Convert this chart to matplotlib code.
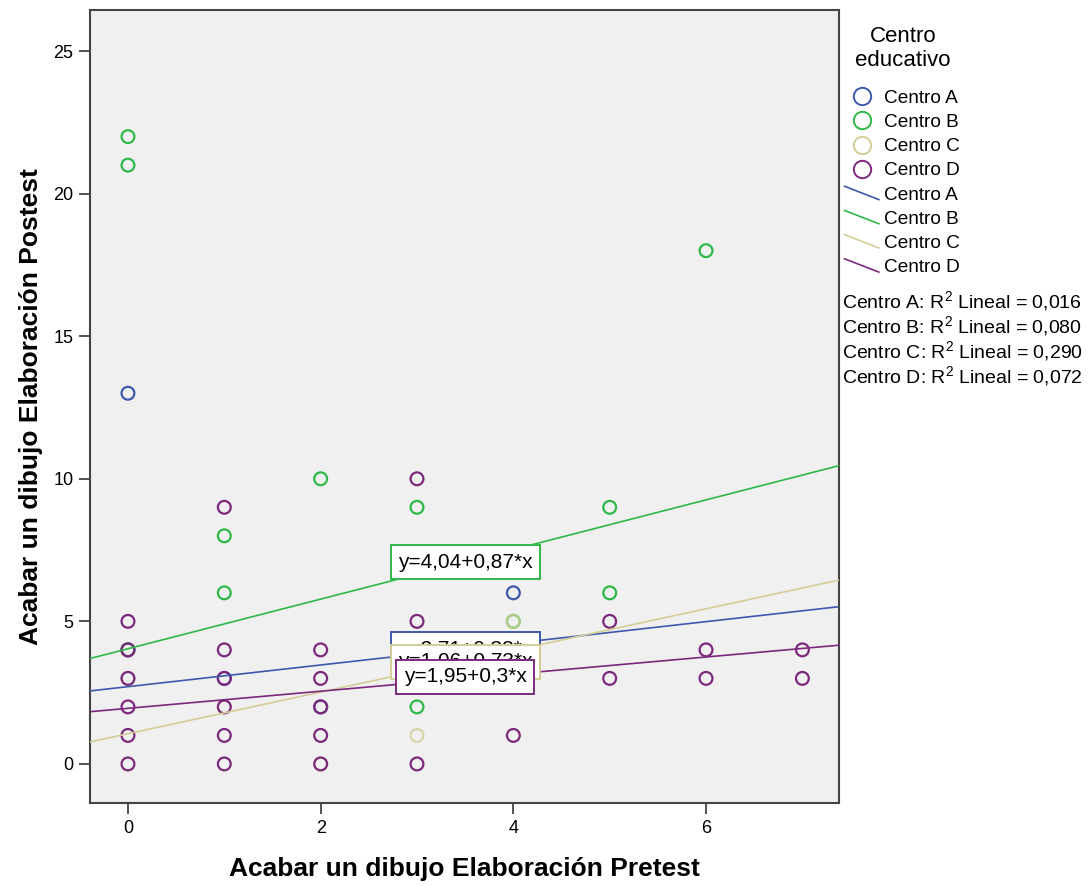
import numpy as np
import matplotlib
matplotlib.use("Agg")
import matplotlib.pyplot as plt
from matplotlib.lines import Line2D
from matplotlib.legend_handler import HandlerBase

plt.rcParams["font.family"] = ["Liberation Sans", "DejaVu Sans"]
plt.rcParams["mathtext.fontset"] = "custom"
plt.rcParams["mathtext.rm"] = "Liberation Sans"

# datos
centros = ["Centro A", "Centro B", "Centro C", "Centro D"]
colores = ["#3e58ac", "#2eb848", "#d3ce97", "#7c287d"]

pre_a = [0, 0, 1, 4, 2]
post_a = [13, 4, 3, 6, 2]
pre_b = [0, 0, 0, 1, 1, 2, 3, 3, 5, 5, 6, 4]
post_b = [22, 21, 4, 8, 6, 10, 9, 2, 9, 6, 18, 5]
pre_c = [3, 4, 0, 1, 2]
post_c = [1, 5, 3, 2, 0]
pre_d = [0, 0, 0, 0, 0, 0, 1, 1, 1, 1, 1, 1, 2, 2, 2, 2, 2, 3, 3, 3, 4, 5, 5, 6, 6, 7, 7]
post_d = [5, 4, 3, 2, 1, 0, 9, 4, 3, 2, 1, 0, 4, 3, 2, 1, 0, 10, 5, 0, 1, 5, 3, 4, 3, 4, 3]

intercepto = [2.71, 4.04, 1.06, 1.95]
pendiente = [0.38, 0.87, 0.73, 0.30]
ecuaciones = ["y=2,71+0,38*x", "y=4,04+0,87*x", "y=1,06+0,73*x", "y=1,95+0,3*x"]
pos_etiqueta_y = [4.03, 7.08, 3.58, 3.05]
r2 = ["0,016", "0,080", "0,290", "0,072"]

xs = [pre_a, pre_b, pre_c, pre_d]
ys = [post_a, post_b, post_c, post_d]

fig = plt.figure(figsize=(10.88, 8.86), dpi=100)
ax = fig.add_axes([90 / 1088, 1 - 803 / 886, 749 / 1088, 793 / 886])
ax.set_facecolor("#f0f0f0")
ax.set_xlim(-0.394, 7.38)
ax.set_ylim(-1.37, 26.44)

# puntos
for i in range(4):
    ax.scatter(xs[i], ys[i], s=85, facecolors="none", edgecolors=colores[i],
               linewidths=1.6, zorder=3, alpha=0.8 if i == 2 else 1.0)

# rectas de regresion
xl = np.linspace(-0.394, 7.38, 50)
for i in range(4):
    ax.plot(xl, intercepto[i] + pendiente[i] * xl, color=colores[i], lw=1.2, zorder=4)

# etiquetas con la ecuacion (se solapan como en el original)
for i in range(4):
    ax.text(3.5, pos_etiqueta_y[i], ecuaciones[i], fontsize=15, ha="center", va="center",
            zorder=5 + i,
            bbox=dict(boxstyle="square,pad=0.35", facecolor="white", edgecolor=colores[i], lw=1.4))

ax.set_xticks([0, 2, 4, 6])
ax.set_yticks([0, 5, 10, 15, 20, 25])
ax.tick_params(labelsize=13, length=8, width=1.2, pad=4, color="#333333")
for s in ax.spines.values():
    s.set_color("#444444")
    s.set_linewidth(1.5)

ax.set_xlabel("Acabar un dibujo Elaboración Pretest", fontsize=19, fontweight="bold")
ax.set_ylabel("Acabar un dibujo Elaboración Postest", fontsize=19, fontweight="bold")
ax.xaxis.set_label_coords(0.5, -0.068)
ax.yaxis.set_label_coords(-0.063, 0.5)


class Inclinada(HandlerBase):
    def create_artists(self, legend, orig_handle, xdescent, ydescent, width, height, fontsize, trans):
        ln = Line2D([-xdescent, -xdescent + width], [-ydescent + height, -ydescent],
                    color=orig_handle.get_color(), lw=orig_handle.get_linewidth(), transform=trans)
        return [ln]


handles = []
for i in range(4):
    handles.append(Line2D([], [], ls="none", marker="o", markersize=12.5, markerfacecolor="none",
                          markeredgecolor=colores[i], markeredgewidth=1.4))
lineas = [Line2D([], [], color=colores[i], lw=1.2) for i in range(4)]
hmap = {l: Inclinada() for l in lineas}
leg = fig.legend(handles + lineas, centros + centros, loc="upper left",
                 bbox_to_anchor=(837 / 1088, 1 - 82 / 886), frameon=False, fontsize=13.7,
                 handlelength=1.8, handletextpad=0.26, labelspacing=0.36, handler_map=hmap,
                 borderaxespad=0)

fig.text(903 / 1088, 1 - 36 / 886, "Centro", fontsize=16, ha="center", va="center")
fig.text(903 / 1088, 1 - 61 / 886, "educativo", fontsize=16, ha="center", va="center")

for i in range(4):
    fig.text(842 / 1088, 1 - (302 + 25 * i) / 886, centros[i] + ": R$^2$ Lineal = " + r2[i],
             fontsize=14, va="center", ha="left")

fig.savefig("out.png", dpi=100)
plt.close()
